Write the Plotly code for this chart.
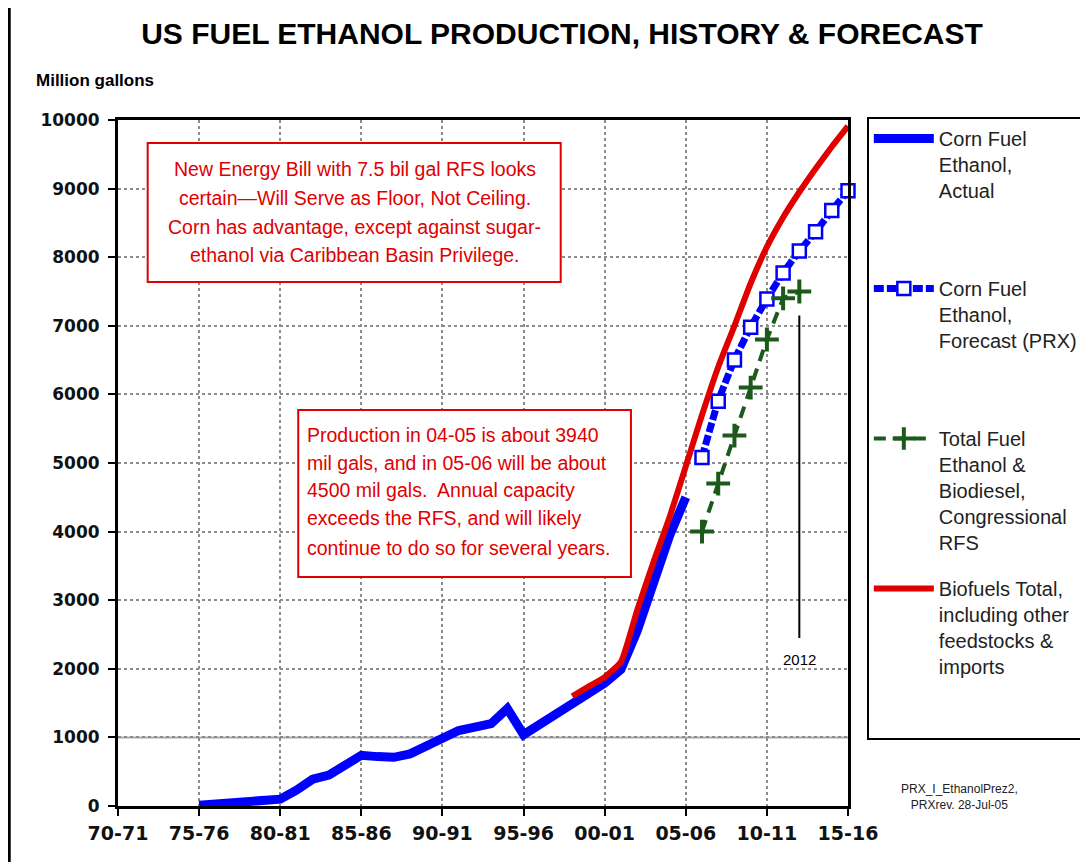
import plotly.graph_objects as go

# ---------------- data ----------------
years_actual = list(range(1975, 2006))
corn_actual = [10, 30, 50, 70, 90, 100, 230, 390, 450, 600, 740, 720, 710, 760, 870,
               1000, 1100, 1150, 1200, 1420, 1040, 1190, 1350, 1500, 1640, 1790, 1990,
               2550, 3280, 3940, 4500]

years_forecast = list(range(2006, 2016))
corn_forecast = [5080, 5900, 6500, 6980, 7390, 7770, 8090, 8370, 8680, 8970]

years_rfs = list(range(2006, 2013))
rfs_total = [4000, 4700, 5400, 6100, 6800, 7400, 7500]

years_biofuels = list(range(1998, 2016))
biofuels_total = [1600, 1740, 1880, 2100, 2850, 3550, 4210, 4950, 5700, 6400, 7000,
                  7620, 8150, 8580, 8950, 9290, 9610, 9910]

tick_years = list(range(1970, 2016, 5))
tick_labels = ["70-71", "75-76", "80-81", "85-86", "90-91", "95-96", "00-01",
               "05-06", "10-11", "15-16"]
y_ticks = list(range(0, 10001, 1000))

names = [
    "Corn Fuel<br>Ethanol,<br>Actual<br>\u00a0<br>\u00a0",
    "Corn Fuel<br>Ethanol,<br>Forecast (PRX)<br>\u00a0<br>\u00a0",
    "Total Fuel<br>Ethanol &<br>Biodiesel,<br>Congressional<br>RFS",
    "Biofuels Total,<br>including other<br>feedstocks &<br>imports<br>\u00a0<br>\u00a0",
]

box1_lines = ["New Energy Bill with 7.5 bil gal RFS looks",
              "certain\u2014Will Serve as Floor, Not Ceiling.",
              "Corn has advantage, except against sugar-",
              "ethanol via Caribbean Basin Privilege."]
box2_lines = ["Production in 04-05 is about 3940",
              "mil gals, and in 05-06 will be about",
              "4500 mil gals.  Annual capacity",
              "exceeds the RFS, and will likely",
              "continue to do so for several years."]

RED = "#e00000"
BLUE = "#0000ff"
GREEN = "#1c5a1c"
SANS = "Arial, Liberation Sans, sans-serif"

fig = go.Figure()

fig.add_trace(go.Scatter(
    x=years_actual, y=corn_actual, mode="lines", name=names[0],
    line=dict(color=BLUE, width=9), legendgroup="a", cliponaxis=False))
fig.add_trace(go.Scatter(
    x=years_forecast, y=corn_forecast, mode="lines+markers", name=names[1],
    line=dict(color=BLUE, width=7, dash="10px,3px", shape="spline", smoothing=0.5),
    marker=dict(symbol="square", size=13, color="white",
                line=dict(color=BLUE, width=2.5)),
    legendgroup="b", cliponaxis=False))
fig.add_trace(go.Scatter(
    x=years_rfs, y=rfs_total, mode="lines+markers", name=names[2],
    line=dict(color=GREEN, width=4, dash="12px,8px"),
    marker=dict(symbol="cross-thin", size=17, color=GREEN,
                line=dict(color=GREEN, width=4)),
    legendgroup="c", cliponaxis=False))
fig.add_trace(go.Scatter(
    x=years_biofuels, y=biofuels_total, mode="lines", name=names[3],
    line=dict(color=RED, width=6, shape="spline", smoothing=0.5),
    legendgroup="d", cliponaxis=False))

annotations = []
for i, t in enumerate(box1_lines):
    annotations.append(dict(x=1984.59, y=[9286, 8863, 8440, 8032][i], xref="x", yref="y",
                            text=t, showarrow=False, xanchor="center", yanchor="middle",
                            font=dict(family=SANS, size=19.5, color=RED)))
for i, t in enumerate(box2_lines):
    annotations.append(dict(x=1981.54, y=[5408, 5000, 4606, 4198, 3761][i], xref="x", yref="y",
                            text=t, showarrow=False, xanchor="left", yanchor="middle",
                            font=dict(family=SANS, size=19.5, color=RED)))
annotations.append(dict(x=2012, y=2130, xref="x", yref="y", text="2012", showarrow=False,
                        font=dict(family=SANS, size=15, color="black")))
annotations.append(dict(x=-0.1153, y=1.0583, xref="paper", yref="paper",
                        text="<b>Million gallons</b>", showarrow=False,
                        xanchor="left", yanchor="middle",
                        font=dict(family=SANS, size=17, color="black")))
annotations.append(dict(x=1.1533, y=0.0131, xref="paper", yref="paper",
                        text="PRX_I_EthanolPrez2,<br>PRXrev. 28-Jul-05", showarrow=False,
                        xanchor="center", yanchor="middle",
                        font=dict(family=SANS, size=12, color="#222")))

shapes = [
    dict(type="line", xref="x", yref="y", x0=1970, x1=2015, y0=1000, y1=1000,
         line=dict(color="#aaaaaa", width=2), layer="below"),
    dict(type="rect", xref="x", yref="y", x0=1971.83, x1=1997.29, y0=7638, y1=9665,
         line=dict(color=RED, width=2), fillcolor="white", layer="above"),
    dict(type="rect", xref="x", yref="y", x0=1981.11, x1=2001.62, y0=3338, y1=5773,
         line=dict(color=RED, width=2), fillcolor="white", layer="above"),
    dict(type="line", xref="x", yref="y", x0=2012, x1=2012, y0=2450, y1=7150,
         line=dict(color="black", width=2)),
    dict(type="rect", xref="paper", yref="paper", x0=-0.149, x1=1.33, y0=-0.09, y1=1.1706,
         line=dict(color="black", width=3)),
]

fig.update_layout(
    width=1088, height=862,
    margin=dict(l=110, r=241, t=112, b=64),
    paper_bgcolor="white", plot_bgcolor="white",
    title=dict(text="<b>US FUEL ETHANOL PRODUCTION, HISTORY &amp; FORECAST</b>",
               x=554 / 1088, xanchor="center", xref="container",
               y=1 - 25 / 862, yanchor="middle", yref="container",
               font=dict(family=SANS, size=30, color="black")),
    showlegend=True,
    legend=dict(x=1.0258, y=1.0044, xanchor="left", yanchor="top",
                xref="paper", yref="paper", maxheight=800,
                bordercolor="black", borderwidth=2, bgcolor="white",
                font=dict(family=SANS, size=20, color="#222"),
                valign="top", itemwidth=60, tracegroupgap=17,
                traceorder="grouped"),
    annotations=annotations,
    shapes=shapes,
    xaxis=dict(range=[1970, 2015], tickvals=tick_years, ticktext=tick_labels,
               showgrid=True, gridcolor="#8c8c8c", gridwidth=1.5, griddash="dot",
               showline=True, linecolor="black", linewidth=3, mirror=True,
               ticks="outside", ticklen=7, tickwidth=2, tickcolor="black",
               ticklabelstandoff=1, zeroline=False,
               tickfont=dict(family="DejaVu Sans", size=19, color="#111", weight="bold")),
    yaxis=dict(range=[0, 10000], tickvals=y_ticks, ticktext=[str(v) for v in y_ticks],
               showgrid=True, gridcolor="#8c8c8c", gridwidth=1.5, griddash="dot",
               showline=True, linecolor="black", linewidth=3, mirror=True,
               ticks="outside", ticklen=7, tickwidth=2, tickcolor="black",
               ticklabelstandoff=5, zeroline=False,
               tickfont=dict(family="DejaVu Sans", size=17, color="#111", weight="bold")),
)

fig.write_html("out.html")
